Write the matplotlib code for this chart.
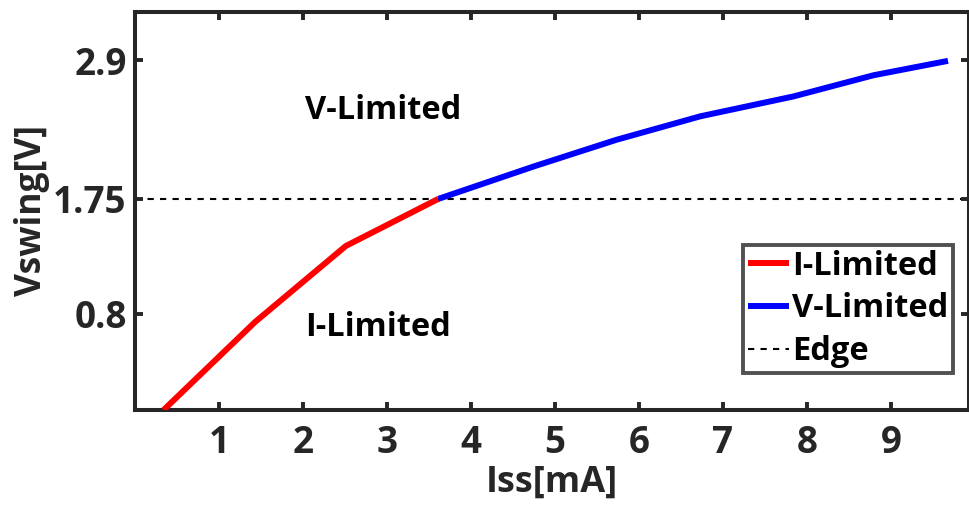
import matplotlib
matplotlib.use("Agg")
import matplotlib.pyplot as plt

# data
i_x = [0.34, 1.43, 2.51, 3.61]
i_y = [0.0, 0.73, 1.36, 1.75]
v_x = [3.61, 4.75, 5.73, 6.73, 7.84, 8.79, 9.68]
v_y = [1.75, 2.02, 2.24, 2.435, 2.60, 2.775, 2.895]
edge_y = 1.75
xticks = [1, 2, 3, 4, 5, 6, 7, 8, 9]
yticks = [0.8, 1.75, 2.9]
ytick_labels = ["0.8", "1.75", "2.9"]

plt.rcParams['font.family'] = ['Open Sans', 'DejaVu Sans']
plt.rcParams['font.weight'] = 'bold'

fig = plt.figure(figsize=(9.70, 5.16), dpi=100)
ax = fig.add_axes([135/970, (516-410)/516, 834/970, 398/516])

dark = '#262626'
FS = 23.5
TFS = 26.5
ax.axhline(edge_y, color='black', linestyle=(0, (3, 3)), linewidth=1.5, label='Edge', zorder=1)
ax.plot(i_x, i_y, color='#ff0000', linewidth=4.3, label='I-Limited', solid_capstyle='butt', zorder=3)
ax.plot(v_x, v_y, color='#0000ff', linewidth=4.3, label='V-Limited', solid_capstyle='butt', zorder=3)

ax.set_xlim(0, 9.93)
ax.set_ylim(0, 3.3)
ax.set_xticks(xticks)
ax.set_yticks(yticks)
ax.set_yticklabels(ytick_labels)
ax.tick_params(direction='in', length=6, width=2.8, colors=dark, labelsize=TFS,
               top=True, right=True, pad=6)
ax.tick_params(axis='x', pad=10)
for lab in ax.get_xticklabels() + ax.get_yticklabels():
    lab.set_fontweight('bold')
for s in ax.spines.values():
    s.set_linewidth(2.9)
    s.set_color(dark)

ax.set_xlabel('Iss[mA]', fontsize=26, fontweight='bold', color=dark, labelpad=2)
ax.set_ylabel('Vswing[V]', fontsize=25.5, fontweight='bold', color=dark, labelpad=2)

ax.text(2.02, 2.485, 'V-Limited', fontsize=FS, fontweight='bold', va='center', ha='left')
ax.text(2.02, 0.68, 'I-Limited', fontsize=FS, fontweight='bold', va='center', ha='left')

h, l = ax.get_legend_handles_labels()
order = [1, 2, 0]
leg = ax.legend([h[i] for i in order], [l[i] for i in order], loc='lower right',
                bbox_to_anchor=(0.981, 0.093), fontsize=FS, frameon=True, fancybox=False,
                edgecolor=dark, handlelength=1.25, handletextpad=0.1, borderpad=0.15,
                labelspacing=0.3, borderaxespad=0)
leg.get_frame().set_linewidth(2.8)
for t in leg.get_texts():
    t.set_fontweight('bold')

fig.savefig('out.png', dpi=100)
